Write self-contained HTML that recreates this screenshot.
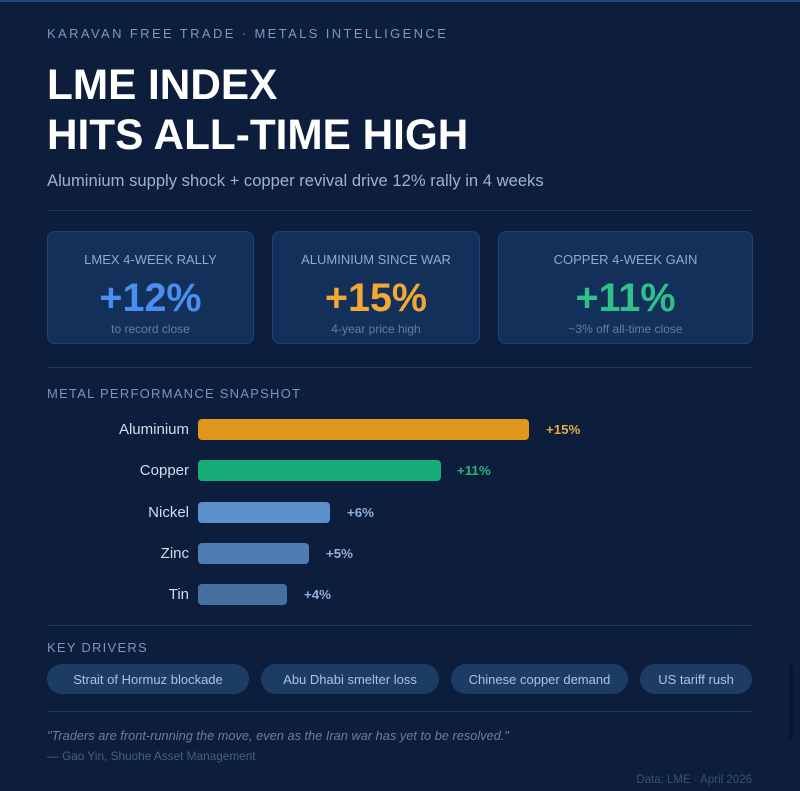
<!DOCTYPE html>
<html><head><meta charset="utf-8">
<style>
*{margin:0;padding:0;box-sizing:border-box}
html,body{width:800px;height:791px;overflow:hidden;background:#0c1e3c}
body{position:relative;font-family:"Liberation Sans",Arial,sans-serif}
.a{position:absolute;white-space:nowrap}
.topline{position:absolute;left:0;top:0;width:800px;height:2px;background:#22477c}
.hdr{left:47px;top:25.5px;font-size:13px;line-height:16px;letter-spacing:2.38px;color:#7c99c0}
.title{left:47px;top:60px;font-size:42.3px;line-height:50px;font-weight:bold;color:#ffffff}
.sub{left:47px;top:171px;font-size:16.6px;line-height:20px;color:#9fb2cc}
.div{position:absolute;left:47px;width:706px;height:1px;background:#203a5f}
.card{position:absolute;top:231px;height:113px;background:#12305a;border:1px solid #1f4272;border-radius:8px}
.card .l{position:absolute;left:0;right:0;top:20px;text-align:center;font-size:13px;line-height:16px;color:#8eaad2}
.card .v{position:absolute;left:0;right:0;top:44px;text-align:center;font-size:39.5px;line-height:44px;font-weight:bold}
.card .s{position:absolute;left:0;right:0;top:89px;text-align:center;font-size:12px;line-height:16px;color:#5f7ea8}
.sec{left:47px;font-size:13px;line-height:16px;letter-spacing:1.25px;color:#7896bd}
.lab{position:absolute;right:611px;font-size:15px;line-height:21px;color:#d3dcea;text-align:right}
.bar{position:absolute;left:198px;height:21px;border-radius:4px}
.val{position:absolute;font-size:13.3px;line-height:21px;font-weight:bold}
.pill{position:absolute;top:664px;height:30px;border-radius:15px;background:#1d3c65;color:#a9c1e4;font-size:13px;line-height:31px;text-align:center}
.q{left:47px;top:727.5px;font-size:12.8px;line-height:16px;font-style:italic;color:#6b7e9c}
.at{left:47px;top:748px;font-size:11.8px;line-height:16px;color:#4a5e7f}
.dt{right:48px;top:771.5px;font-size:11.5px;line-height:16px;color:#3b5072}
.scroll{position:absolute;left:789px;top:665px;width:4px;height:75px;border-radius:2px;background:#081730}
</style></head>
<body>
<div class="topline"></div>
<div class="a hdr">KARAVAN FREE TRADE · METALS INTELLIGENCE</div>
<div class="a title">LME INDEX<br>HITS ALL-TIME HIGH</div>
<div class="a sub">Aluminium supply shock + copper revival drive 12% rally in 4 weeks</div>
<div class="div" style="top:210px"></div>

<div class="card" style="left:47px;width:207px">
  <div class="l">LMEX 4-WEEK RALLY</div>
  <div class="v" style="color:#4a8ff0">+12%</div>
  <div class="s">to record close</div>
</div>
<div class="card" style="left:272px;width:208px">
  <div class="l">ALUMINIUM SINCE WAR</div>
  <div class="v" style="color:#f2a832">+15%</div>
  <div class="s">4-year price high</div>
</div>
<div class="card" style="left:498px;width:255px">
  <div class="l">COPPER 4-WEEK GAIN</div>
  <div class="v" style="color:#2ec28a">+11%</div>
  <div class="s">~3% off all-time close</div>
</div>

<div class="div" style="top:367px"></div>
<div class="a sec" style="top:386px">METAL PERFORMANCE SNAPSHOT</div>

<div class="lab" style="top:419px">Aluminium</div>
<div class="bar" style="top:419px;width:331px;background:#e0951c"></div>
<div class="val" style="top:419px;left:546px;color:#e8a947">+15%</div>

<div class="lab" style="top:460px">Copper</div>
<div class="bar" style="top:460px;width:243px;background:#16ad78"></div>
<div class="val" style="top:460px;left:457px;color:#2fb27e">+11%</div>

<div class="lab" style="top:501.5px">Nickel</div>
<div class="bar" style="top:501.5px;width:132px;background:#5e8fcd"></div>
<div class="val" style="top:501.5px;left:347px;color:#8fb0dc">+6%</div>

<div class="lab" style="top:543px">Zinc</div>
<div class="bar" style="top:543px;width:111px;background:#4f7db3"></div>
<div class="val" style="top:543px;left:326px;color:#8fb0dc">+5%</div>

<div class="lab" style="top:584px">Tin</div>
<div class="bar" style="top:584px;width:89px;background:#45709f"></div>
<div class="val" style="top:584px;left:304px;color:#8fb0dc">+4%</div>

<div class="div" style="top:625px"></div>
<div class="a sec" style="top:640px">KEY DRIVERS</div>
<div class="pill" style="left:47px;width:202px">Strait of Hormuz blockade</div>
<div class="pill" style="left:261px;width:178px">Abu Dhabi smelter loss</div>
<div class="pill" style="left:451px;width:177px">Chinese copper demand</div>
<div class="pill" style="left:640px;width:112px">US tariff rush</div>

<div class="div" style="top:711px"></div>
<div class="a q">"Traders are front-running the move, even as the Iran war has yet to be resolved."</div>
<div class="a at">— Gao Yin, Shuohe Asset Management</div>
<div class="a dt">Data: LME · April 2026</div>
<div class="scroll"></div>
</body></html>
